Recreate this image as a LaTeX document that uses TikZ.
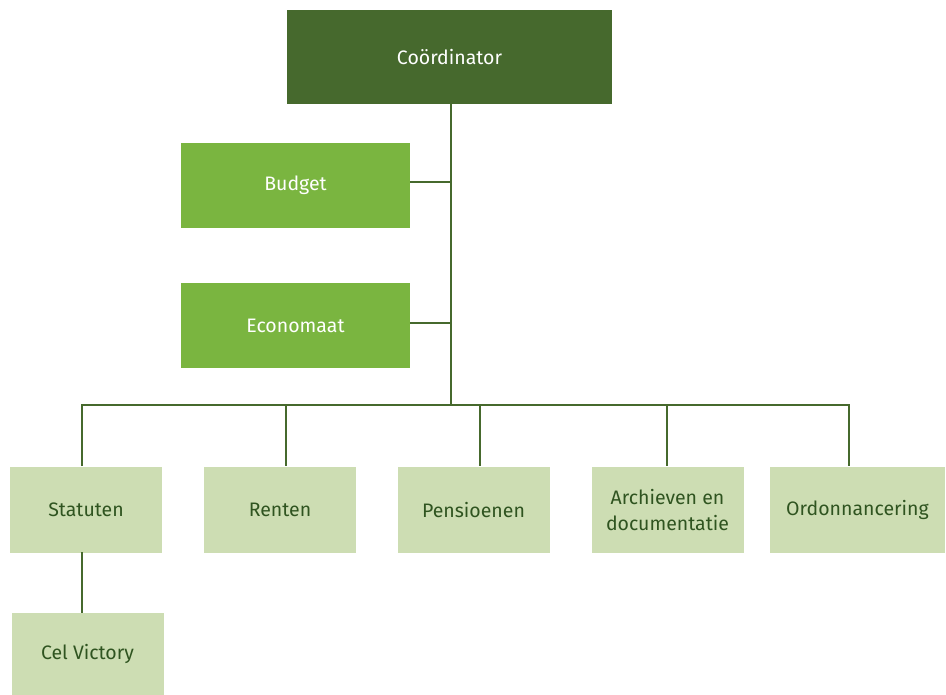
\documentclass[tikz,border=0pt]{standalone}
\usepackage{fontspec}
\setmainfont{Fira Sans}
\usepackage{tikz}

\definecolor{darkgreen}{HTML}{46692D}
\definecolor{midgreen}{HTML}{7AB540}
\definecolor{lightgreen}{HTML}{CDDDB3}
\definecolor{textgreen}{HTML}{2F5420}

\tikzset{
  box/.style={inner sep=0pt, align=center, font=\fontsize{19.5}{26}\selectfont},
  topbox/.style={box, fill=darkgreen, text=white, minimum width=325pt, minimum height=94pt},
  midbox/.style={box, fill=midgreen, text=white, minimum width=229pt, minimum height=85pt},
  lowbox/.style={box, fill=lightgreen, text=textgreen, minimum width=152pt, minimum height=86pt},
  link/.style={darkgreen, line width=2pt}
}

\begin{document}
\begin{tikzpicture}[x=1pt,y=-1pt]
    \useasboundingbox (0,0) rectangle (946,695);
    \node[topbox] (coord) at (449.5,57) {Coördinator};
    \node[midbox] (budget) at (295.5,185.5) {Budget};
    \node[midbox] (econ) at (295.5,325.5) {Economaat};
    \node[lowbox] (stat) at (86,510) {Statuten};
    \node[lowbox] (rent) at (280,510) {Renten};
    \node[lowbox] (pens) at (473.5,510) {Pensioenen};
    \node[lowbox] (arch) at (667.5,510) {Archieven en\\documentatie};
    \node[lowbox, minimum width=175pt] (ordo) at (857.5,510) {Ordonnancering};
    \node[lowbox, minimum height=82pt] (cel) at (87.5,654) {Cel Victory};
    % trunk and bus
    \coordinate (top) at (451,104);
    \coordinate (bus) at (451,405);
    \draw[link] (top) -- (bus);
    \draw[link] (budget.east |- 0,182) -- (451,182);
    \draw[link] (econ.east |- 0,323) -- (451,323);
    \draw[link] (82,466) -- (82,405) -- (849,405) -- (849,466);
    \draw[link] (286,405) -- (286,466);
    \draw[link] (480,405) -- (480,466);
    \draw[link] (667,405) -- (667,466);
    \draw[link] (82,552) -- (82,613);
\end{tikzpicture}
\end{document}
